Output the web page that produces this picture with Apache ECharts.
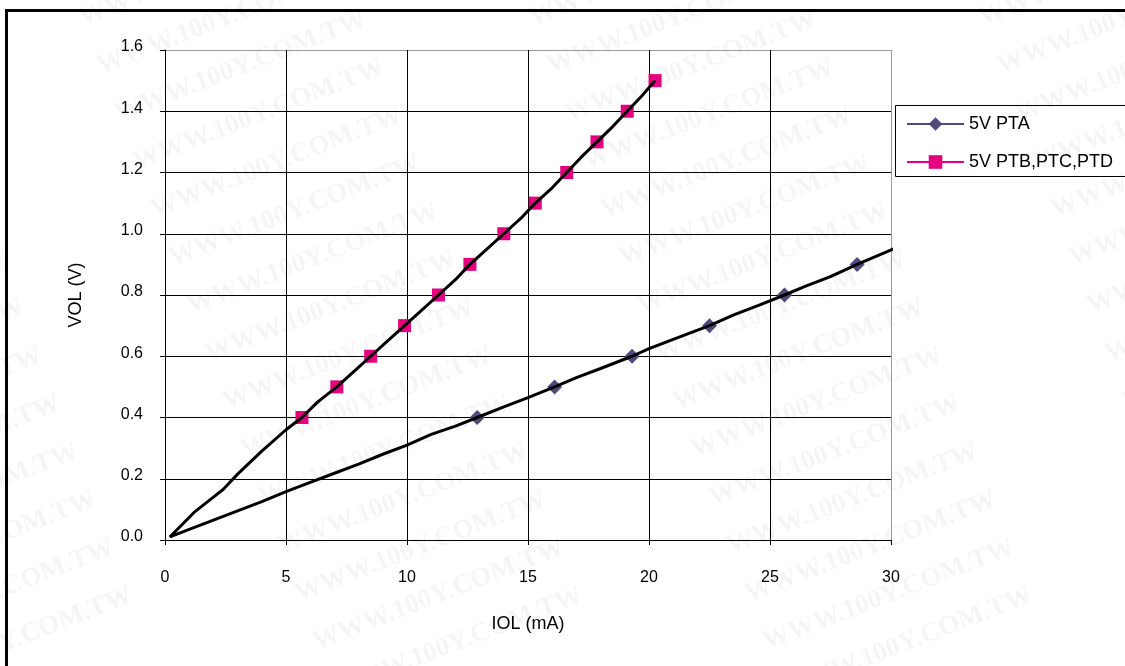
<!DOCTYPE html>
<html>
<head>
<meta charset="utf-8">
<script src="https://cdn.jsdelivr.net/npm/echarts@6/dist/echarts.min.js"></script>
<style>
  html, body { margin: 0; padding: 0; background: #fff; }
  #chart { width: 1125px; height: 666px; }
</style>
</head>
<body>
<div id="chart"></div>
<script>
// legend names
var names = ['5V PTA', '5V PTB,PTC,PTD'];

// marker points (IOL mA, VOL V)
var ptaX = [12.9, 16.1, 19.3, 22.5, 25.6, 28.6];
var ptaY = [0.4, 0.5, 0.6, 0.7, 0.8, 0.9];
var ptbX = [5.66, 7.1, 8.5, 9.9, 11.3, 12.6, 14.0, 15.3, 16.6, 17.85, 19.1, 20.25];
var ptbY = [0.4, 0.5, 0.6, 0.7, 0.8, 0.9, 1.0, 1.1, 1.2, 1.3, 1.4, 1.5];

// the black measured curves
var curveAX = [0.2, 1, 2, 3, 4, 5, 6, 7, 8, 9, 10, 11, 12, 12.9, 14, 15, 16.1, 17, 18, 19.3, 20, 21, 22.5, 23.5, 24.5, 25.6, 26.5, 27.5, 28.6, 29.5, 30.4];
var curveAY = [0.01, 0.035, 0.065, 0.095, 0.125, 0.158, 0.188, 0.218, 0.248, 0.28, 0.31, 0.345, 0.372, 0.4, 0.435, 0.465, 0.5, 0.53, 0.56, 0.6, 0.625, 0.655, 0.7, 0.735, 0.765, 0.8, 0.83, 0.86, 0.9, 0.93, 0.96];
var curveBX = [0.2, 0.7, 1.2, 2, 2.4, 3, 4, 5, 5.66, 6.3, 7.1, 7.8, 8.5, 9.2, 9.9, 10.6, 11.3, 12, 12.6, 13.3, 14, 14.7, 15.3, 16, 16.6, 17.2, 17.85, 18.5, 19.1, 19.7, 20.25];
var curveBY = [0.01, 0.05, 0.09, 0.14, 0.165, 0.215, 0.29, 0.36, 0.4, 0.45, 0.5, 0.55, 0.6, 0.65, 0.7, 0.75, 0.8, 0.85, 0.9, 0.95, 1.0, 1.05, 1.1, 1.15, 1.2, 1.25, 1.3, 1.35, 1.4, 1.45, 1.5];

function pairs(xs, ys) {
    var out = [];
    for (var i = 0; i < xs.length; i++) out.push([xs[i], ys[i]]);
    return out;
}

var font = 'Liberation Sans, Arial, sans-serif';

// faint watermark tiles
var marks = [];
for (var c = -1; c < 3; c++) {
    for (var r = -1; r < 15; r++) {
        marks.push({
            type: 'text',
            x: 85 + c * 450 + r * 18,
            y: 32 + r * 48,
            rotation: 0.37,
            silent: true,
            z: -10,
            style: {
                text: 'WWW.100Y.COM.TW',
                font: 'bold 27px "Liberation Serif", serif',
                fill: 'rgba(0,0,0,0.04)',
                textVerticalAlign: 'bottom'
            }
        });
    }
}
marks.push({
    type: 'rect', silent: true, z: 1,
    shape: {x: 6.5, y: 10.5, width: 1300, height: 800},
    style: {fill: 'none', stroke: '#000', lineWidth: 3}
});
marks.push({
    type: 'rect', silent: true, z: 1,
    shape: {x: 895.5, y: 105.5, width: 400, height: 71},
    style: {fill: 'none', stroke: '#000', lineWidth: 1}
});

var myChart = echarts.init(document.getElementById('chart'));
var option = {
    backgroundColor: '#fff',
    animation: false,
    graphic: marks,
    legend: {
        orient: 'vertical',
        left: 906,
        top: 115,
        padding: 0,
        itemWidth: 57,
        itemHeight: 17,
        itemGap: 20,
        data: names,
        textStyle: {color: '#000', fontSize: 18, fontFamily: font}
    },
    grid: {left: 165, right: 234, top: 50, bottom: 126},
    xAxis: {
        type: 'value',
        min: 0, max: 30, interval: 5,
        name: 'IOL (mA)',
        nameLocation: 'middle',
        nameGap: 75,
        nameTextStyle: {color: '#000', fontSize: 18, fontFamily: font},
        axisLine: {lineStyle: {color: '#000', width: 1}},
        axisTick: {show: true, length: 5, lineStyle: {color: '#000'}},
        axisLabel: {color: '#000', fontSize: 16, fontFamily: font, margin: 30},
        splitLine: {show: true, lineStyle: {color: ['#000', '#000', '#000', '#000', '#000', '#000', '#999'], width: 1}}
    },
    yAxis: {
        type: 'value',
        min: 0, max: 1.6, interval: 0.2,
        name: 'VOL (V)',
        nameLocation: 'middle',
        nameGap: 80,
        nameTextStyle: {color: '#000', fontSize: 18, fontFamily: font},
        axisLine: {show: true, lineStyle: {color: '#000', width: 1}},
        axisTick: {show: true, length: 5, lineStyle: {color: '#000'}},
        axisLabel: {
            color: '#000', fontSize: 16, fontFamily: font, margin: 22,
            verticalAlign: 'bottom',
            lineHeight: 6,
            formatter: function (v) { return v.toFixed(1); }
        },
        splitLine: {show: true, lineStyle: {color: ['#000', '#000', '#000', '#000', '#000', '#000', '#000', '#000', '#999'], width: 1}}
    },
    series: [
        {
            name: names[0],
            type: 'line',
            data: pairs(ptaX, ptaY),
            symbol: 'diamond',
            symbolSize: 15,
            itemStyle: {color: '#4e4a7e'},
            lineStyle: {color: '#4e4a7e', width: 1},
            z: 3
        },
        {
            name: names[1],
            type: 'line',
            data: pairs(ptbX, ptbY),
            symbol: 'rect',
            symbolSize: 13,
            itemStyle: {color: '#e4007f'},
            lineStyle: {color: '#e4007f', width: 1},
            z: 3
        },
        {
            name: 'curveA',
            type: 'line',
            data: pairs(curveAX, curveAY),
            showSymbol: false,
            symbol: 'none',
            clip: false,
            lineStyle: {color: '#000', width: 3},
            z: 5
        },
        {
            name: 'curveB',
            type: 'line',
            data: pairs(curveBX, curveBY),
            showSymbol: false,
            symbol: 'none',
            clip: false,
            lineStyle: {color: '#000', width: 3},
            z: 5
        }
    ]
};
myChart.setOption(option);
</script>
</body>
</html>
